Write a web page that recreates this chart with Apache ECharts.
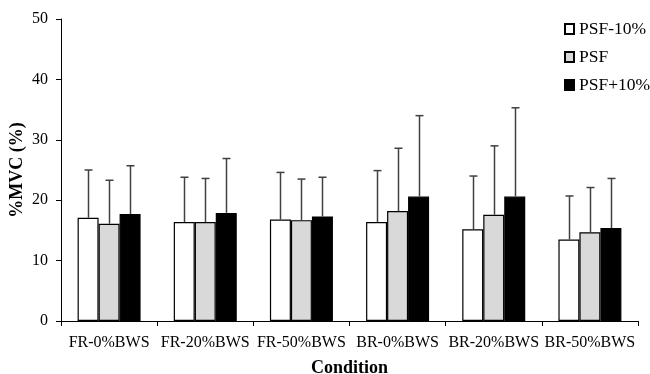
<!DOCTYPE html>
<html><head><meta charset="utf-8">
<script src="https://cdn.jsdelivr.net/npm/echarts@6/dist/echarts.min.js"></script>
<style>html,body{margin:0;padding:0;background:#fff}#c{width:650px;height:374px}</style>
</head><body><div id="c"></div>
<script>
const categories = ['FR-0%BWS','FR-20%BWS','FR-50%BWS','BR-0%BWS','BR-20%BWS','BR-50%BWS'];
const seriesNames = ['PSF-10%','PSF','PSF+10%'];
const meanMinus10 = [17.1, 16.4, 16.8, 16.4, 15.2, 13.5];
const meanPSF     = [16.1, 16.4, 16.7, 18.2, 17.6, 14.7];
const meanPlus10  = [17.7, 17.9, 17.3, 20.6, 20.6, 15.4];
const upperMinus10 = [25.0, 23.8, 24.6, 24.9, 24.0, 20.7];
const upperPSF     = [23.3, 23.6, 23.5, 28.6, 29.0, 22.1];
const upperPlus10  = [25.7, 26.9, 23.8, 34.0, 35.3, 23.6];
const yTicks = [0, 10, 20, 30, 40, 50];

const means = [meanMinus10, meanPSF, meanPlus10];
const uppers = [upperMinus10, upperPSF, upperPlus10];
const fills = ['#ffffff', '#d9d9d9', '#000000'];
const FONT = '"Liberation Serif", "Times New Roman", serif';
const BW = 21;

const chart = echarts.init(document.getElementById('c'));
const series = [];
means.forEach((m, i) => {
  series.push({
    name: seriesNames[i], type: 'bar', data: m, barWidth: BW, barGap: '0%',
    itemStyle: { color: fills[i], borderColor: '#000', borderWidth: 1.2 },
    z: 2
  });
});
means.forEach((m, i) => {
  series.push({
    type: 'custom', z: 3, silent: true,
    data: m.map((v, k) => [k, v, uppers[i][k]]),
    encode: { x: 0, y: [1, 2] },
    renderItem: function (params, api) {
      const k = api.value(0);
      const lo = api.coord([k, api.value(1)]);
      const hi = api.coord([k, api.value(2)]);
      const x = Math.round(lo[0] + (i - 1) * BW) + 0.5;
      const st = { stroke: '#404040', lineWidth: 1.5 };
      return { type: 'group', children: [
        { type: 'line', shape: { x1: x, y1: lo[1], x2: x, y2: hi[1] }, style: st },
        { type: 'line', shape: { x1: x - 4, y1: hi[1], x2: x + 4, y2: hi[1] }, style: st }
      ]};
    }
  });
});

chart.setOption({
  animation: false,
  backgroundColor: '#fff',
  textStyle: { fontFamily: FONT },
  grid: { left: 61, right: 12, top: 19, bottom: 53, outerBoundsMode: 'none', containLabel: false },
  legend: {
    data: seriesNames, orient: 'vertical', left: 564, top: 20, padding: 0,
    itemWidth: 9, itemHeight: 10, itemGap: 10, icon: 'rect',
    textStyle: { fontFamily: FONT, fontSize: 17.5, color: '#000' }
  },
  xAxis: {
    type: 'category', data: categories,
    name: 'Condition', nameLocation: 'middle', nameGap: 38,
    nameTextStyle: { fontFamily: FONT, fontSize: 18, fontWeight: 'bold', color: '#000' },
    axisLine: { lineStyle: { color: '#000', width: 1 } },
    axisTick: { show: true, length: 5, lineStyle: { color: '#000' } },
    axisLabel: { interval: 0, fontFamily: FONT, fontSize: 16, color: '#000', margin: 14 }
  },
  yAxis: {
    type: 'value', min: yTicks[0], max: yTicks[yTicks.length - 1], interval: 10,
    name: '%MVC (%)', nameLocation: 'middle', nameGap: 35, nameRotate: 90, nameMoveOverlap: false,
    nameTextStyle: { fontFamily: FONT, fontSize: 18, fontWeight: 'bold', color: '#000' },
    axisLine: { show: true, lineStyle: { color: '#000', width: 1 } },
    axisTick: { show: true, length: 5, lineStyle: { color: '#000' } },
    splitLine: { show: false },
    axisLabel: { fontFamily: FONT, fontSize: 16, color: '#000', margin: 13 }
  },
  series: series
});
</script></body></html>
